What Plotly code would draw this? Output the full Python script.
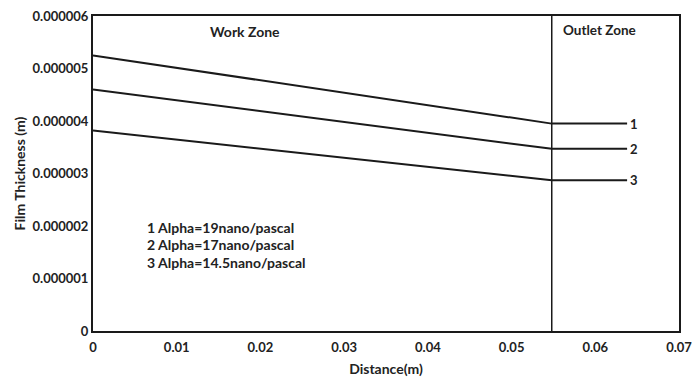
import plotly.graph_objects as go

# Film thickness along the contact: work zone then constant outlet zone
distance = [0, 0.0548, 0.0638]
series_names = ["1", "2", "3"]
thickness_start = [5.25e-6, 4.60e-6, 3.82e-6]
thickness_end = [3.95e-6, 3.47e-6, 2.87e-6]
legend_lines = ["1 Alpha=19nano/pascal", "2 Alpha=17nano/pascal", "3 Alpha=14.5nano/pascal"]
zone_boundary = 0.0548

x_ticks = [0, 0.01, 0.02, 0.03, 0.04, 0.05, 0.06, 0.07]
x_tick_text = ["0", "0.01", "0.02", "0.03", "0.04", "0.05", "0.06", "0.07"]
y_ticks = [0, 1e-6, 2e-6, 3e-6, 4e-6, 5e-6, 6e-6]
y_tick_text = ["0", "0.000001", "0.000002", "0.000003", "0.000004", "0.000005", "0.000006"]

FONT = "Lato"
INK = "#222222"
fig = go.Figure()

for name, y0, y1 in zip(series_names, thickness_start, thickness_end):
    fig.add_trace(go.Scatter(
        x=distance, y=[y0, y1, y1], mode="lines", name=name,
        line=dict(color="#1a1a1a", width=2), showlegend=False, hoverinfo="skip"))
    fig.add_annotation(x=distance[-1], y=y1, text="<b>%s</b>" % name, showarrow=False,
                       xanchor="left", yanchor="middle", xshift=1,
                       font=dict(family=FONT, size=13, color=INK))

# boundary between work zone and outlet zone
fig.add_trace(go.Scatter(x=[zone_boundary, zone_boundary], y=[0, 6e-6], mode="lines",
                         line=dict(color="#1a1a1a", width=1.5), showlegend=False, hoverinfo="skip"))

fig.add_annotation(x=0.0182, y=0.95, yref="paper", text="<b>Work Zone</b>", showarrow=False,
                   xanchor="center", yanchor="middle", font=dict(family=FONT, size=14, color=INK))
fig.add_annotation(x=0.0605, y=0.955, yref="paper", text="<b>Outlet Zone</b>", showarrow=False,
                   xanchor="center", yanchor="middle", font=dict(family=FONT, size=13.5, color=INK))

for i, line in enumerate(legend_lines):
    fig.add_annotation(x=0.0062, y=0.330 - i * 0.056, yref="paper", text="<b>%s</b>" % line,
                       showarrow=False, xanchor="left", yanchor="middle",
                       font=dict(family=FONT, size=14, color=INK))

axis_common = dict(showgrid=False, zeroline=False, showline=True, linecolor="#1a1a1a",
                   linewidth=2, mirror=True, ticks="", automargin=False,
                   tickfont=dict(family=FONT, size=13, color=INK))

fig.update_xaxes(range=[0, 0.07], tickvals=x_ticks, ticktext=["<b>%s</b>" % t for t in x_tick_text],
                 ticklabelstandoff=3,
                 title=dict(text="<b>Distance(m)</b>", font=dict(family=FONT, size=14, color=INK), standoff=11),
                 **axis_common)
fig.update_yaxes(range=[0, 6e-6], tickvals=y_ticks, ticktext=["<b>%s</b>" % t for t in y_tick_text],
                 title=dict(text="<b>Film Thickness (m)</b>", font=dict(family=FONT, size=14, color=INK), standoff=4),
                 **axis_common)

fig.update_layout(width=694, height=379, margin=dict(l=93, r=15, t=16, b=48),
                  paper_bgcolor="white", plot_bgcolor="white")

fig.write_html("out.html")
